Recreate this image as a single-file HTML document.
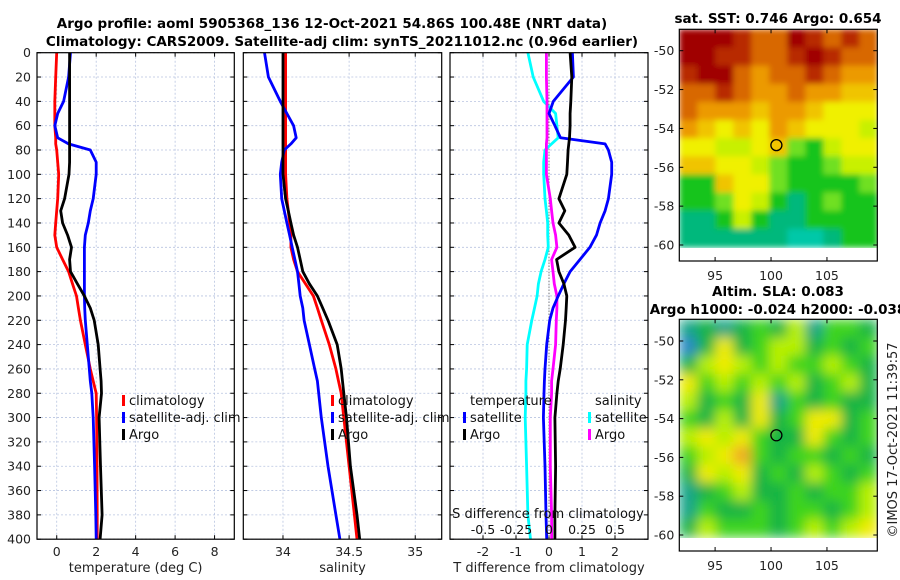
<!DOCTYPE html>
<html><head><meta charset="utf-8"><style>
body{margin:0;background:#fff;}
svg{display:block;font-family:"DejaVu Sans","Liberation Sans",sans-serif;}
</style></head><body>
<svg id="chart" width="900" height="580" viewBox="0 0 900 580" xmlns="http://www.w3.org/2000/svg">
<defs>
<filter id="blurS" x="0" y="0" width="1" height="1"><feGaussianBlur stdDeviation="3" edgeMode="duplicate"/></filter>
<filter id="blurL" x="0" y="0" width="1" height="1"><feGaussianBlur stdDeviation="6" edgeMode="duplicate"/></filter>
</defs>
<rect width="900" height="580" fill="#fff"/>
<text x="332" y="28" text-anchor="middle" font-weight="bold" font-size="13.5">Argo profile: aoml 5905368_136 12-Oct-2021 54.86S 100.48E (NRT data)</text>
<text x="342" y="46" text-anchor="middle" font-weight="bold" font-size="13.5">Climatology: CARS2009. Satellite-adj clim: synTS_20211012.nc (0.96d earlier)</text>
<text x="778" y="23" text-anchor="middle" font-weight="bold" font-size="13.5">sat. SST: 0.746 Argo: 0.654</text>
<text x="778" y="296" text-anchor="middle" font-weight="bold" font-size="13.5">Altim. SLA: 0.083</text>
<text x="778" y="314" text-anchor="middle" font-weight="bold" font-size="13.5">Argo h1000: -0.024 h2000: -0.038</text>
<text transform="translate(897,440) rotate(-90)" text-anchor="middle" font-size="13" fill="#222">©IMOS 17-Oct-2021 11:39:57</text>
<g id="g"></g>
</svg>
<script>
// depth levels (m)
const depthsT = [0,20,40,50,60,70,75,80,90,100,120,130,140,150,160,170,180,190,200,210,220,240,260,270,280,300,340,380,400];
const tempClim = [0.0,-0.05,-0.1,-0.1,-0.1,-0.05,-0.05,0.0,0.05,0.1,0.05,0.0,-0.05,-0.1,0.0,0.3,0.6,0.8,1.0,1.1,1.2,1.45,1.7,1.85,2.0,2.02,2.04,2.05,2.05];
const tempSat  = [0.7,0.6,0.35,0.05,-0.1,0.05,0.6,1.7,2.0,2.0,1.85,1.7,1.6,1.45,1.4,1.4,1.4,1.4,1.4,1.42,1.45,1.55,1.65,1.7,1.78,1.85,1.92,1.98,2.0];
const tempArgo = [0.65,0.65,0.65,0.65,0.65,0.65,0.65,0.65,0.65,0.62,0.4,0.2,0.3,0.55,0.75,0.65,0.7,1.05,1.4,1.7,1.9,2.1,2.2,2.25,2.27,2.15,2.22,2.3,2.2];
const salClim = [34.02,34.02,34.02,34.02,34.02,34.02,34.02,34.02,34.02,34.02,34.03,34.04,34.05,34.06,34.06,34.08,34.11,34.17,34.23,34.26,34.29,34.35,34.4,34.42,34.44,34.46,34.5,34.54,34.56];
const salSat  = [33.86,33.89,33.98,34.03,34.08,34.1,34.06,34.01,33.99,33.98,33.99,34.01,34.03,34.05,34.07,34.09,34.11,34.12,34.13,34.15,34.16,34.2,34.24,34.26,34.27,34.29,34.34,34.4,34.43];
const salArgo = [34.0,34.0,34.0,34.0,34.0,34.0,34.0,34.0,34.0,34.0,34.02,34.04,34.06,34.08,34.11,34.13,34.15,34.2,34.26,34.3,34.34,34.41,34.44,34.45,34.46,34.48,34.51,34.56,34.58];
const dTsat  = [0.71,0.74,0.13,0.0,0.18,0.35,1.7,1.8,1.9,1.9,1.8,1.7,1.55,1.44,1.24,0.94,0.64,0.45,0.28,0.12,0.02,-0.07,-0.12,-0.14,-0.15,-0.17,-0.12,-0.09,-0.07];
const dTargo = [0.64,0.69,0.66,0.64,0.64,0.62,0.6,0.58,0.56,0.54,0.3,0.48,0.3,0.6,0.79,0.23,0.3,0.45,0.54,0.52,0.5,0.43,0.34,0.28,0.24,0.18,0.2,0.18,0.18];
const dSsat  = [-0.16,-0.12,-0.04,0.05,0.06,0.07,0.02,-0.03,-0.04,-0.04,-0.03,-0.02,-0.01,-0.01,-0.005,-0.03,-0.06,-0.08,-0.09,-0.11,-0.13,-0.165,-0.17,-0.175,-0.175,-0.18,-0.17,-0.16,-0.14];
const dSargo = [-0.02,-0.02,-0.015,-0.015,-0.015,-0.015,-0.02,-0.02,-0.02,-0.02,0.01,0.02,0.03,0.05,0.06,0.02,0.03,0.04,0.06,0.06,0.055,0.05,0.03,0.02,0.02,0.01,0.01,0.02,0.02];
const depthTicks = [0,20,40,60,80,100,120,140,160,180,200,220,240,260,280,300,320,340,360,380,400];
const tTicks = [0,2,4,6,8];
const sTicks = [34,34.5,35];
const dTTicks = [-2,-1,0,1,2];
const dSTicks = [-0.5,-0.25,0,0.25,0.5];
const dSTickLabels = ["-0.5","-0.25","0","0.25","0.5"];
// maps: colour level grids (rows N->S, cols W->E)
const sstGrid = [
[10,10,10,9,8,8,10,9,8,9,8],[10,10,9,9,8,8,9,10,9,8,8],[9,10,10,8,7,8,8,9,8,7,7],[8,8,9,8,7,7,8,7,7,6,6],
[8,7,7,7,6,7,7,6,5,5,5],[7,6,5,6,5,7,6,5,5,5,4],[5,5,4,4,5,6,3,2,4,5,5],[6,6,5,5,4,3,2,2,3,4,4],
[2,2,6,5,5,3,2,2,2,2,3],[2,2,3,5,4,2,1,2,3,2,2],[1,1,2,4,2,1,1,2,2,2,2],[1,1,1,1,1,1,0,0,1,2,2]];
const slaGrid = [
[1,2,1,2,3,2,4,1,3,3,2],[0,2,5,2,3,4,4,2,3,2,3],[2,4,5,4,3,4,3,3,4,3,2],[5,3,4,3,4,3,4,2,3,4,2],
[4,2,3,2,5,1,3,2,3,2,2],[3,2,4,2,5,2,3,5,5,2,3],[4,5,4,5,3,2,2,5,3,2,3],[3,4,5,6,3,2,3,3,2,3,2],
[2,5,4,5,2,3,2,4,3,2,3],[1,2,3,4,2,2,3,2,3,3,4],[1,3,2,2,3,2,3,3,2,3,4],[2,4,3,3,3,2,3,4,3,4,5]];
const lonTicks=[95,100,105];
const latTicks=[-50,-52,-54,-56,-58,-60];
const argoLon=100.48, argoLat=-54.86;

const NS="http://www.w3.org/2000/svg";
const G=document.getElementById('g');
function el(tag,attrs,parent){const e=document.createElementNS(NS,tag);for(const k in attrs)e.setAttribute(k,attrs[k]);(parent||G).appendChild(e);return e;}
const Y0=52.7,Y1=539.2;
const yD=d=>Y0+(Y1-Y0)*d/400;
function lin(d0,d1,p0,p1){return v=>p0+(v-d0)*(p1-p0)/(d1-d0);}

function panel(name,x0,x1,xs,ticks,labels,xlabel){
  const g=el('g',{});
  
  
  depthTicks.forEach(d=>{el('line',{x1:x0,x2:x1,y1:yD(d),y2:yD(d),stroke:'#b8c4e0','stroke-width':0.8,'stroke-dasharray':'2,2'},g);});
  ticks.forEach((t,i)=>{const x=xs(t);
    el('line',{x1:x,x2:x,y1:Y0,y2:Y1,stroke:'#b8c4e0','stroke-width':0.8,'stroke-dasharray':'2,2'},g);
    el('line',{x1:x,x2:x,y1:Y1,y2:Y1-4,stroke:'#000'},g);el('line',{x1:x,x2:x,y1:Y0,y2:Y0+4,stroke:'#000'},g);
    const tx=el('text',{x:x,y:556,'text-anchor':'middle','font-size':12.5,fill:'#222'},g);
    
    
    tx.textContent=labels[i];});
  depthTicks.forEach(d=>{el('line',{x1:x0,x2:x0+4,y1:yD(d),y2:yD(d),stroke:'#000'},g);el('line',{x1:x1,x2:x1-4,y1:yD(d),y2:yD(d),stroke:'#000'},g);});
  const xl=el('text',{x:(x0+x1)/2,y:572,'text-anchor':'middle','font-size':13,fill:'#222'},g);
  
  
  xl.textContent=xlabel;
  return g;
}
function line(g,xs,vals,color,name,w){
  const p=el('polyline',{points:vals.map((v,i)=>xs(v).toFixed(1)+','+yD(depthsT[i]).toFixed(1)).join(' '),fill:'none',stroke:color,'stroke-width':w||2.8,'stroke-linejoin':'round'},g);
  
  
}
function frame(g,x0,x1){el('rect',{x:x0,y:Y0,width:x1-x0,height:Y1-Y0,fill:'none',stroke:'#000','stroke-width':1.2},g);}
function legend(g,x,y,items){items.forEach((it,i)=>{
  el('rect',{x:x,y:y+i*17-10,width:3,height:11,fill:it[1]},g);
  const t=el('text',{x:x+7,y:y+i*17,'font-size':13,fill:'#111'},g);
  
  
  t.textContent=it[0];});}

depthTicks.forEach(d=>{const t=el('text',{x:31,y:yD(d)+4.5,'text-anchor':'end','font-size':12.5,fill:'#222'});
  
  
  t.textContent=d;});

const xT=lin(-1,9,37,234.3);
const g1=panel('temperature-panel',37,234.3,xT,tTicks,tTicks.map(String),'temperature (deg C)');
line(g1,xT,tempClim,'#f00','temp-climatology-line');
line(g1,xT,tempSat,'#00f','temp-satellite-line');
line(g1,xT,tempArgo,'#000','temp-argo-line');
frame(g1,37,234.3);
legend(g1,122,405,[['climatology','#f00'],['satellite-adj. clim','#00f'],['Argo','#000']]);

const xS=lin(33.7,35.2,243.3,441.7);
const g2=panel('salinity-panel',243.3,441.7,xS,sTicks,['34','34.5','35'],'salinity');
line(g2,xS,salClim,'#f00','sal-climatology-line');
line(g2,xS,salSat,'#00f','sal-satellite-line');
line(g2,xS,salArgo,'#000','sal-argo-line');
frame(g2,243.3,441.7);
legend(g2,331,405,[['climatology','#f00'],['satellite-adj. clim','#00f'],['Argo','#000']]);

const xDT=lin(-3,3,450,648);
const xDS=lin(-0.75,0.75,450,648);
const g3=panel('difference-panel',450,648,xDT,dTTicks,dTTicks.map(String),'T difference from climatology');
el('line',{x1:xDT(0),x2:xDT(0),y1:Y0,y2:Y1,stroke:'#555','stroke-width':1,'stroke-dasharray':'1,2'},g3);
line(g3,xDS,dSsat,'#0ff','s-diff-satellite-line');
line(g3,xDS,dSargo,'#f0f','s-diff-argo-line');
line(g3,xDT,dTsat,'#00f','t-diff-satellite-line');
line(g3,xDT,dTargo,'#000','t-diff-argo-line');
frame(g3,450,648);
const lt=el('text',{x:470,y:405,'font-size':13,fill:'#111'},g3);lt.textContent='temperature';
const ls=el('text',{x:595,y:405,'font-size':13,fill:'#111'},g3);ls.textContent='salinity';
legend(g3,463,422,[['satellite','#00f'],['Argo','#000']]);
legend(g3,588,422,[['satellite','#0ff'],['Argo','#f0f']]);
const st=el('text',{x:548,y:518,'text-anchor':'middle','font-size':13,fill:'#111'},g3);


st.textContent='S difference from climatology';
dSTicks.forEach((t,i)=>{const tx=el('text',{x:xDS(t),y:534,'text-anchor':'middle','font-size':12.5,fill:'#111'},g3);
  
  
  tx.textContent=dSTickLabels[i];});

const sstCols=['#00c8a8','#00b87c','#14c41c','#70e020','#c8f000','#f0f000','#f0c400','#ec9a00','#d86800','#b82a00','#a00000'];
const slaCols=['#2a86c8','#14a488','#14b444','#3cd41c','#b8f000','#f0ec00','#f0a828'];
function map(name,fx0,fx1,fy0,fy1,latTop,latBot,grid,cols,filt){
  const g=el('g',{});
  
  
  const lx=lin(91.8,109.5,fx0,fx1);
  const ly=lin(-50,-60,latTop,latBot);
  const gx0=fx0, gy0=fy0, gy1=ly(-60.1);
  const nr=grid.length,nc=grid[0].length,cw=(fx1-fx0)/nc,ch=(gy1-gy0)/nr;
  const cg=el('g',{filter:'url(#'+filt+')'},g);
  grid.forEach((row,r)=>row.forEach((v,c)=>{const cell=el('rect',{x:gx0+c*cw,y:gy0+r*ch,width:cw+0.6,height:ch+0.6,fill:cols[v]},cg);
    
    }));
  el('rect',{x:fx0,y:fy0,width:fx1-fx0,height:fy1-fy0,fill:'none',stroke:'#000','stroke-width':1.2},g);
  lonTicks.forEach(l=>{const x=lx(l);el('line',{x1:x,x2:x,y1:fy1,y2:fy1-4,stroke:'#000'},g);el('line',{x1:x,x2:x,y1:fy0,y2:fy0+4,stroke:'#000'},g);
    const t=el('text',{x:x,y:fy1+19,'text-anchor':'middle','font-size':12.5,fill:'#222'},g);
    
    
    t.textContent=l;});
  latTicks.forEach(l=>{const y=ly(l);el('line',{x1:fx0,x2:fx0+4,y1:y,y2:y,stroke:'#000'},g);el('line',{x1:fx1,x2:fx1-4,y1:y,y2:y,stroke:'#000'},g);
    const t=el('text',{x:fx0-5,y:y+4.5,'text-anchor':'end','font-size':12.5,fill:'#222'},g);
    
    
    t.textContent=l;});
  const m=el('circle',{cx:lx(argoLon),cy:ly(argoLat),r:5.5,fill:'none',stroke:'#000','stroke-width':1.3},g);
  
  
}
map('sst-map',679.3,877.3,29.3,261,50.7,245,sstGrid,sstCols,'blurS');
map('sla-map',679.3,877.3,319.3,551,341,535,slaGrid,slaCols,'blurL');
</script>
</body></html>
